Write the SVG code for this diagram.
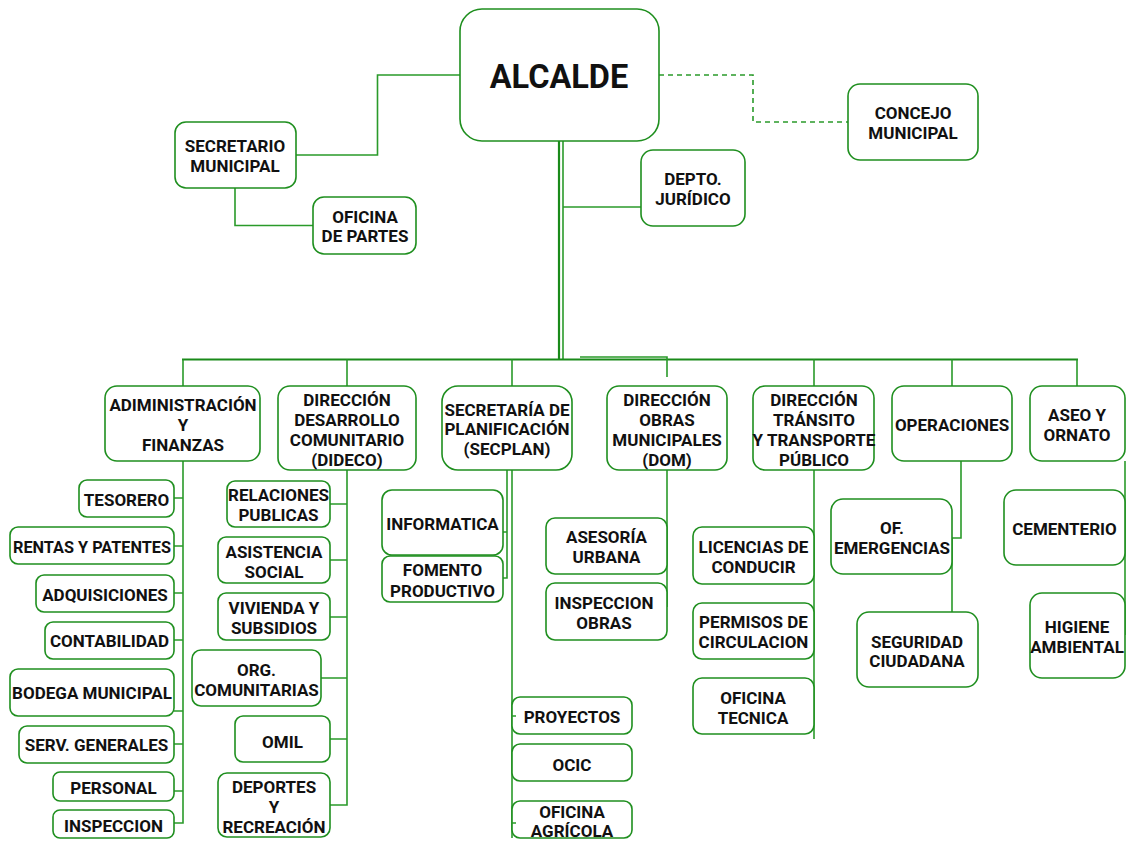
<svg xmlns="http://www.w3.org/2000/svg" width="1137" height="842" viewBox="0 0 1137 842">
<style>
.box{fill:#fff;stroke:#1f8f1f;stroke-width:1.6}
.t{font-family:Roboto,"Liberation Sans",sans-serif;font-weight:bold;font-size:17px;fill:#111;text-anchor:middle}
.big{font-size:32.5px}
.c{fill:none;stroke:#2a9a2a;stroke-width:1.6}
.dk{stroke:#1a8a1a;stroke-width:2.2}
.dash{stroke-dasharray:5 4}
</style>
<rect width="1137" height="842" fill="#fff"/>
<g id="connectors">
<path class="c" d="M460,75 H377.5 V155 H295"/>
<path class="c" d="M235,188 V225.5 H313"/>
<path class="c dash" d="M659,75 H753 V122 H848"/>
<path class="c dk" d="M559,141 V360"/>
<path class="c" d="M563,141 V360"/>
<path class="c" d="M563,207 H641"/>
<path class="c dk" d="M182,359.5 H1078" style="stroke-width:1.8"/>
<path class="c" d="M580,357 H667 V377"/>
<path class="c" d="M183,359.5 V386"/>
<path class="c" d="M347,359.5 V386"/>
<path class="c" d="M512,359.5 V386"/>
<path class="c" d="M814,359.5 V386"/>
<path class="c" d="M952,359.5 V386"/>
<path class="c" d="M1077,359.5 V386"/>
<path class="c" d="M183,461 V823 H174 M174,498 H183 M174,546 H183 M174,593 H183 M174,640 H183 M174,711 H183 M174,744 H183 M174,791 H183"/>
<path class="c" d="M347,470 V805 H330 M330,504 H347 M330,560 H347 M330,617 H347 M321,678 H347 M330,739 H347"/>
<path class="c" d="M507,470 V578 H503 M507,532 H503"/>
<path class="c" d="M512,470 V838"/>
<path class="c" d="M667,470 V607"/>
<path class="c" d="M814,470 V739"/>
<path class="c" d="M961,461 V538 H952 V617"/>
<path class="c" d="M1125,461 V635"/>
</g>
<g id="alcalde"><rect class="box" x="460" y="9" width="199" height="132" rx="22"/><text class="t big" x="559" y="88">ALCALDE</text></g>
<g id="secretario"><rect class="box" x="175" y="122" width="121" height="66" rx="11"/><text class="t" x="235" y="152">SECRETARIO</text><text class="t" x="235" y="172">MUNICIPAL</text></g>
<g id="oficina-partes"><rect class="box" x="313" y="197" width="103" height="57" rx="11"/><text class="t" x="365" y="223">OFICINA</text><text class="t" x="365" y="242">DE PARTES</text></g>
<g id="concejo"><rect class="box" x="848" y="84" width="130" height="76" rx="12"/><text class="t" x="913" y="119">CONCEJO</text><text class="t" x="913" y="139">MUNICIPAL</text></g>
<g id="juridico"><rect class="box" x="641" y="150" width="104" height="76" rx="12"/><text class="t" x="693" y="185">DEPTO.</text><text class="t" x="693" y="205">JURÍDICO</text></g>

<g id="admin"><rect class="box" x="105" y="386" width="155" height="75" rx="12"/><text class="t" x="183" y="411">ADIMINISTRACIÓN</text><text class="t" x="183" y="431">Y</text><text class="t" x="183" y="451">FINANZAS</text></g>
<g id="dideco"><rect class="box" x="278" y="386" width="138" height="84" rx="12"/><text class="t" x="347" y="406">DIRECCIÓN</text><text class="t" x="347" y="426">DESARROLLO</text><text class="t" x="347" y="446">COMUNITARIO</text><text class="t" x="347" y="466">(DIDECO)</text></g>
<g id="secplan"><rect class="box" x="442" y="386" width="130" height="84" rx="16"/><text class="t" x="507" y="416">SECRETARÍA DE</text><text class="t" x="507" y="435">PLANIFICACIÓN</text><text class="t" x="507" y="455">(SECPLAN)</text></g>
<g id="dom"><rect class="box" x="607" y="386" width="120" height="84" rx="12"/><text class="t" x="667" y="406">DIRECCIÓN</text><text class="t" x="667" y="426">OBRAS</text><text class="t" x="667" y="446">MUNICIPALES</text><text class="t" x="667" y="466">(DOM)</text></g>
<g id="transito"><rect class="box" x="753" y="386" width="121" height="84" rx="12"/><text class="t" x="814" y="406">DIRECCIÓN</text><text class="t" x="814" y="426">TRÁNSITO</text><text class="t" x="814" y="446">Y TRANSPORTE</text><text class="t" x="814" y="466">PÚBLICO</text></g>
<g id="operaciones"><rect class="box" x="892" y="386" width="120" height="75" rx="12"/><text class="t" x="952" y="431">OPERACIONES</text></g>
<g id="aseo"><rect class="box" x="1030" y="386" width="95" height="75" rx="12"/><text class="t" x="1077" y="421">ASEO Y</text><text class="t" x="1077" y="441">ORNATO</text></g>

<g id="tesorero"><rect class="box" x="79" y="480" width="95" height="37" rx="8"/><text class="t" x="126.5" y="506">TESORERO</text></g>
<g id="rentas"><rect class="box" x="10" y="527" width="164" height="37" rx="8"/><text class="t" x="92" y="553" textLength="158" lengthAdjust="spacingAndGlyphs">RENTAS Y PATENTES</text></g>
<g id="adquisiciones"><rect class="box" x="36" y="575" width="138" height="37" rx="8"/><text class="t" x="105" y="601">ADQUISICIONES</text></g>
<g id="contabilidad"><rect class="box" x="45" y="622" width="129" height="37" rx="8"/><text class="t" x="109.5" y="647">CONTABILIDAD</text></g>
<g id="bodega"><rect class="box" x="10" y="669" width="164" height="47" rx="8"/><text class="t" x="92" y="699">BODEGA MUNICIPAL</text></g>
<g id="serv-generales"><rect class="box" x="19" y="726" width="155" height="37" rx="8"/><text class="t" x="96.5" y="751">SERV. GENERALES</text></g>
<g id="personal"><rect class="box" x="53" y="772" width="121" height="29" rx="7"/><text class="t" x="113.5" y="794">PERSONAL</text></g>
<g id="inspeccion"><rect class="box" x="53" y="810" width="121" height="28" rx="7"/><text class="t" x="113.5" y="832">INSPECCION</text></g>

<g id="relaciones"><rect class="box" x="227" y="481" width="103" height="46" rx="8"/><text class="t" x="278.5" y="501">RELACIONES</text><text class="t" x="278.5" y="521">PUBLICAS</text></g>
<g id="asistencia"><rect class="box" x="218" y="537" width="112" height="46" rx="8"/><text class="t" x="274" y="558">ASISTENCIA</text><text class="t" x="274" y="578">SOCIAL</text></g>
<g id="vivienda"><rect class="box" x="218" y="593" width="112" height="47" rx="8"/><text class="t" x="274" y="614">VIVIENDA Y</text><text class="t" x="274" y="634">SUBSIDIOS</text></g>
<g id="org"><rect class="box" x="192" y="650" width="129" height="56" rx="9"/><text class="t" x="256.5" y="676">ORG.</text><text class="t" x="256.5" y="696">COMUNITARIAS</text></g>
<g id="omil"><rect class="box" x="235" y="716" width="95" height="46" rx="8"/><text class="t" x="282.5" y="748">OMIL</text></g>
<g id="deportes"><rect class="box" x="218" y="773" width="112" height="64" rx="9"/><text class="t" x="274" y="793">DEPORTES</text><text class="t" x="274" y="813">Y</text><text class="t" x="274" y="833">RECREACIÓN</text></g>

<g id="informatica"><rect class="box" x="382" y="490" width="121" height="65" rx="10"/><text class="t" x="442.5" y="530">INFORMATICA</text></g>
<g id="fomento"><rect class="box" x="382" y="556" width="121" height="46" rx="8"/><text class="t" x="442.5" y="576">FOMENTO</text><text class="t" x="442.5" y="597">PRODUCTIVO</text></g>
<g id="proyectos"><rect class="box" x="512" y="697" width="120" height="37" rx="8"/><text class="t" x="572" y="723">PROYECTOS</text></g>
<g id="ocic"><rect class="box" x="512" y="744" width="120" height="37" rx="8"/><text class="t" x="572" y="771">OCIC</text></g>
<g id="agricola"><rect class="box" x="512" y="801" width="120" height="37" rx="8"/><text class="t" x="572" y="818">OFICINA</text><text class="t" x="572" y="837">AGRÍCOLA</text></g>
<path class="c" d="M512,716 H516 M512,823 H516"/>

<g id="asesoria"><rect class="box" x="546" y="518" width="121" height="56" rx="9"/><text class="t" x="606.5" y="543">ASESORÍA</text><text class="t" x="606.5" y="563">URBANA</text></g>
<g id="inspeccion-obras"><rect class="box" x="546" y="583" width="121" height="57" rx="9"/><text class="t" x="604" y="609">INSPECCION</text><text class="t" x="604" y="629">OBRAS</text></g>

<g id="licencias"><rect class="box" x="693" y="527" width="121" height="57" rx="9"/><text class="t" x="753.5" y="553">LICENCIAS DE</text><text class="t" x="753.5" y="573">CONDUCIR</text></g>
<g id="permisos"><rect class="box" x="693" y="603" width="121" height="56" rx="9"/><text class="t" x="753.5" y="628">PERMISOS DE</text><text class="t" x="753.5" y="648">CIRCULACION</text></g>
<g id="oficina-tecnica"><rect class="box" x="693" y="678" width="121" height="56" rx="9"/><text class="t" x="753" y="704">OFICINA</text><text class="t" x="753" y="724">TECNICA</text></g>

<g id="emergencias"><rect class="box" x="831" y="499" width="121" height="75" rx="12"/><text class="t" x="892" y="534">OF.</text><text class="t" x="892" y="554">EMERGENCIAS</text></g>
<g id="seguridad"><rect class="box" x="857" y="612" width="121" height="75" rx="12"/><text class="t" x="917" y="648">SEGURIDAD</text><text class="t" x="917" y="667">CIUDADANA</text></g>

<g id="cementerio"><rect class="box" x="1004" y="490" width="121" height="75" rx="12"/><text class="t" x="1064.5" y="535">CEMENTERIO</text></g>
<g id="higiene"><rect class="box" x="1030" y="593" width="95" height="85" rx="12"/><text class="t" x="1077" y="633">HIGIENE</text><text class="t" x="1077" y="653">AMBIENTAL</text></g>
</svg>
